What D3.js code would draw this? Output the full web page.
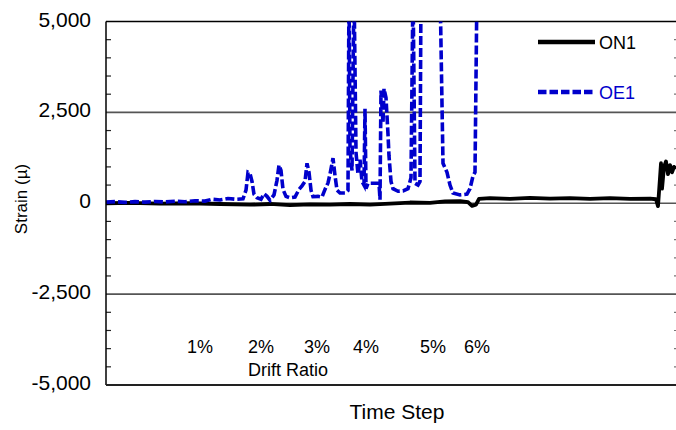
<!DOCTYPE html>
<html>
<head>
<meta charset="utf-8">
<script src="https://cdn.jsdelivr.net/npm/d3@7"></script>
<style>
  html, body { margin: 0; padding: 0; background: #fff; }
  svg { display: block; font-family: "Liberation Sans", Arial, sans-serif; }
</style>
</head>
<body>
<svg id="chart" width="676" height="430"></svg>
<script>
// Strain gauge readings over the loading history
const yTicks = [5000, 2500, 0, -2500, -5000];
const yMinorStep = 500;

// ON1 gauge: time step / strain (µ)
const on1Step = [0, 240, 540, 840, 1140, 1440, 1640, 1840, 2040, 2240, 2440, 2640, 2840, 3040, 3240, 3390, 3540, 3620, 3660, 3700, 3730, 3840, 4040, 4240, 4440, 4640, 4840, 5040, 5240, 5440, 5500, 5520, 5540, 5550, 5560, 5580, 5600, 5620, 5640, 5660, 5680, 5700];
const on1Strain = [0, 10, -10, 0, -20, -40, -20, -50, -30, -40, -20, -40, -10, 20, 10, 50, 60, 30, -70, -40, 120, 140, 120, 150, 130, 140, 120, 140, 120, 130, 110, -80, 700, 1100, 400, 1000, 1150, 800, 1050, 850, 1000, 950];

// OE1 gauge: time step / strain (µ); readings beyond the range run off the top
const oe1Step = [0, 90, 190, 290, 390, 490, 590, 690, 790, 890, 990, 1060, 1140, 1220, 1300, 1370, 1400, 1420, 1440, 1460, 1480, 1510, 1550, 1580, 1610, 1640, 1680, 1710, 1730, 1750, 1770, 1800, 1840, 1890, 1930, 1960, 1990, 2010, 2030, 2050, 2070, 2120, 2160, 2190, 2220, 2240, 2270, 2290, 2310, 2340, 2390, 2420, 2430, 2440, 2460, 2480, 2500, 2520, 2540, 2560, 2580, 2590, 2600, 2620, 2660, 2700, 2730, 2740, 2750, 2770, 2780, 2800, 2820, 2830, 2850, 2870, 2920, 2970, 3020, 3050, 3070, 3090, 3120, 3140, 3150, 3340, 3370, 3410, 3440, 3470, 3540, 3610, 3640, 3670, 3690, 3710];
const oe1Strain = [30, 45, 25, 45, 30, 50, 35, 55, 40, 70, 60, 110, 90, 130, 110, 120, 360, 850, 820, 600, 250, 150, 110, 260, 190, 80, 230, 630, 1050, 900, 380, 190, 150, 170, 380, 480, 600, 1100, 850, 360, 180, 190, 170, 380, 560, 800, 1240, 760, 360, 280, 280, 350, 6000, 1500, 900, 6000, 1400, 800, 1200, 600, 500, 2600, 400, 550, 550, 550, 550, 100, 3100, 2200, 3150, 2900, 1900, 1300, 600, 400, 330, 340, 400, 700, 6000, 550, 500, 600, 6000, 6000, 1100, 850, 500, 280, 230, 250, 400, 750, 850, 6000];

const driftLabels = ["1%", "2%", "3%", "4%", "5%", "6%"];
const driftStep = [940, 1550, 2110, 2600, 3270, 3710];

const seriesNames = ["ON1", "OE1"];
const seriesColors = ["#000000", "#0000cc"];

const svg = d3.select("#chart");
const plotLeft = 106, plotRight = 676, plotTop = 21.5, plotBottom = 385;

const x = d3.scaleLinear().domain([0, 5700]).range([plotLeft, plotRight]);
const y = d3.scaleLinear().domain([-5000, 5000]).range([plotBottom, plotTop]);

svg.append("defs").append("clipPath").attr("id", "plotclip")
  .append("rect").attr("x", plotLeft).attr("y", plotTop)
  .attr("width", plotRight - plotLeft).attr("height", plotBottom - plotTop);

// horizontal gridlines at the labelled values
svg.append("g").selectAll("line").data(yTicks.filter(d => d !== -5000 && d !== 5000))
  .join("line")
  .attr("x1", plotLeft).attr("x2", plotRight)
  .attr("y1", d => y(d)).attr("y2", d => y(d))
  .attr("stroke", "#555").attr("stroke-width", 1.6);
svg.append("line").attr("x1", plotLeft).attr("x2", plotRight).attr("y1", y(5000)).attr("y2", y(5000))
  .attr("stroke", "#000").attr("stroke-width", 1.4);

// minor ticks inside the left and right edges
const minor = d3.range(-5000, 5001, yMinorStep).filter(d => !yTicks.includes(d));
svg.append("g").selectAll("line").data(minor).join("line")
  .attr("x1", plotLeft).attr("x2", plotLeft + 5)
  .attr("y1", d => y(d)).attr("y2", d => y(d))
  .attr("stroke", "#222").attr("stroke-width", 1.2);
svg.append("g").selectAll("line").data(minor).join("line")
  .attr("x1", plotRight - 2).attr("x2", plotRight)
  .attr("y1", d => y(d)).attr("y2", d => y(d))
  .attr("stroke", "#777").attr("stroke-width", 1.2);

// y axis labels (plain hyphen for negatives)
const fmt = d3.formatLocale({ decimal: ".", thousands: ",", grouping: [3], currency: ["", ""], minus: "-" }).format(",");
svg.append("g").selectAll("text").data(yTicks).join("text")
  .attr("x", 91).attr("y", d => y(d) + 5)
  .attr("text-anchor", "end")
  .attr("font-size", 21)
  .attr("fill", "#000")
  .text(d => fmt(d));

svg.append("text")
  .attr("transform", `translate(27,${199}) rotate(-90)`)
  .attr("text-anchor", "middle")
  .attr("font-size", 17)
  .text("Strain (\u00b5)");

// data lines
const lineGen = d3.line().x(d => x(d[0])).y(d => y(d[1]));
const plot = svg.append("g").attr("clip-path", "url(#plotclip)");
plot.append("path")
  .datum(d3.zip(on1Step, on1Strain))
  .attr("d", lineGen)
  .attr("fill", "none").attr("stroke", seriesColors[0])
  .attr("stroke-width", 3.8).attr("stroke-linejoin", "round");
plot.append("path")
  .datum(d3.zip(oe1Step, oe1Strain))
  .attr("d", lineGen)
  .attr("fill", "none").attr("stroke", seriesColors[1])
  .attr("stroke-width", 3.6).attr("stroke-dasharray", "9,3");

// axes frame
svg.append("line").attr("x1", plotLeft).attr("x2", plotLeft).attr("y1", plotTop).attr("y2", plotBottom)
  .attr("stroke", "#000").attr("stroke-width", 1.5);
svg.append("line").attr("x1", plotLeft).attr("x2", plotRight).attr("y1", plotBottom).attr("y2", plotBottom)
  .attr("stroke", "#222").attr("stroke-width", 2);

// drift ratio annotations
svg.append("g").selectAll("text").data(driftLabels).join("text")
  .attr("x", (d, i) => x(driftStep[i])).attr("y", 353)
  .attr("text-anchor", "middle").attr("font-size", 18)
  .text(d => d);
svg.append("text").attr("x", 288).attr("y", 376)
  .attr("text-anchor", "middle").attr("font-size", 18)
  .text("Drift Ratio");

svg.append("text").attr("x", 397).attr("y", 419)
  .attr("text-anchor", "middle").attr("font-size", 21)
  .text("Time Step");

// legend
const legend = svg.append("g");
const legendY = [42, 92];
seriesNames.forEach((name, i) => {
  legend.append("line")
    .attr("x1", 538).attr("x2", 595).attr("y1", legendY[i]).attr("y2", legendY[i])
    .attr("stroke", seriesColors[i]).attr("stroke-width", 4.5)
    .attr("stroke-dasharray", i === 1 ? "8.5,3" : null);
  legend.append("text")
    .attr("x", 599).attr("y", legendY[i] + 7)
    .attr("font-size", 18).attr("fill", seriesColors[i])
    .text(name);
});
</script>
</body>
</html>
